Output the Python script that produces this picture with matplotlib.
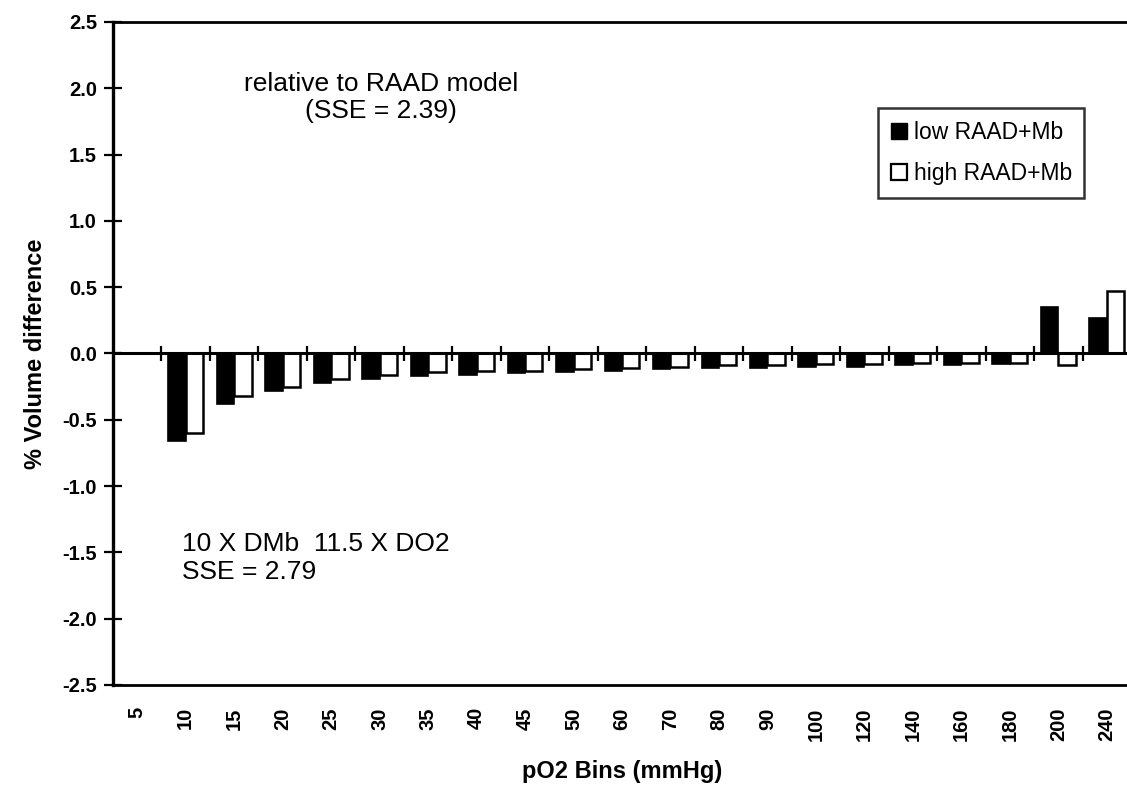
import numpy as np
import matplotlib
matplotlib.use("Agg")
import matplotlib.pyplot as plt
from matplotlib.patches import Patch

plt.rcParams['font.family'] = ['Liberation Sans', 'DejaVu Sans']

# pO2 bins (mmHg) and percent volume differences
bins = ["5", "10", "15", "20", "25", "30", "35", "40", "45", "50", "60",
        "70", "80", "90", "100", "120", "140", "160", "180", "200", "240"]
low_raad_mb = [0.0, -0.66, -0.38, -0.28, -0.22, -0.19, -0.17, -0.16, -0.15,
               -0.14, -0.13, -0.12, -0.11, -0.11, -0.10, -0.10, -0.09, -0.09,
               -0.08, 0.35, 0.27]
high_raad_mb = [0.0, -0.60, -0.32, -0.25, -0.19, -0.16, -0.14, -0.13, -0.13,
                -0.12, -0.11, -0.10, -0.09, -0.09, -0.08, -0.08, -0.07, -0.07,
                -0.07, -0.09, 0.47]
y_ticks = [-2.5, -2.0, -1.5, -1.0, -0.5, 0.0, 0.5, 1.0, 1.5, 2.0, 2.5]

W, H = 1127, 790
fig = plt.figure(figsize=(W / 100, H / 100), dpi=100)
ax = fig.add_axes([113 / W, 105 / H, (1131 - 113) / W, (685 - 22) / H])

x = np.arange(len(bins))
bw = 0.36
ax.bar(x - bw / 2, low_raad_mb, width=bw, color="black", edgecolor="black",
       linewidth=1.2, label="low RAAD+Mb", zorder=3)
ax.bar(x + bw / 2, high_raad_mb, width=bw, color="white", edgecolor="black",
       linewidth=1.8, label="high RAAD+Mb", zorder=3)

ax.set_xlim(-0.5, len(bins) - 0.5)
ax.set_ylim(-2.5, 2.5)

# zero line with category-boundary ticks crossing it
ax.axhline(0, color="black", linewidth=2.2, zorder=4)
ax.vlines(x[:-1] + 0.5, -0.06, 0.06, color="black", linewidth=1.6, zorder=4)

ax.set_yticks(y_ticks)
ax.set_yticklabels([f"{v:.1f}" for v in y_ticks], fontsize=14.5, fontweight="bold")
ax.tick_params(axis="y", direction="inout", length=13, width=1.6, pad=5)

ax.set_xticks(x)
ax.set_xticklabels(bins, rotation=90, fontsize=14.5, fontweight="bold")
ax.tick_params(axis="x", length=0, pad=16)

for side in ("top", "bottom"):
    ax.spines[side].set_linewidth(2.0)
ax.spines["left"].set_linewidth(2.4)
ax.spines["right"].set_visible(False)

ax.set_ylabel("% Volume difference", fontsize=17, fontweight="bold", labelpad=11)
ax.set_xlabel("pO2 Bins (mmHg)", fontsize=17, fontweight="bold", labelpad=14)

ax.text(5.03, 1.93, "relative to RAAD model\n(SSE = 2.39)", ha="center",
        va="center", fontsize=19, linespacing=1.2)
ax.text(0.92, -1.54, "10 X DMb  11.5 X DO2\nSSE = 2.79", ha="left",
        va="center", fontsize=19, linespacing=1.2)

handles = [Patch(facecolor="black", edgecolor="black", label="low RAAD+Mb"),
           Patch(facecolor="white", edgecolor="black", linewidth=1.6,
                 label="high RAAD+Mb")]
leg = ax.legend(handles=handles, loc="upper left",
                bbox_to_anchor=(878 / W, 1 - 108 / H),
                bbox_transform=fig.transFigure, fontsize=16.5, frameon=True,
                fancybox=False, handlelength=0.7, handleheight=0.7,
                handletextpad=0.3, borderpad=0.55, labelspacing=0.8,
                borderaxespad=0)
leg.get_frame().set_edgecolor("black")
leg.get_frame().set_linewidth(1.8)

fig.savefig("out.png", dpi=100)
